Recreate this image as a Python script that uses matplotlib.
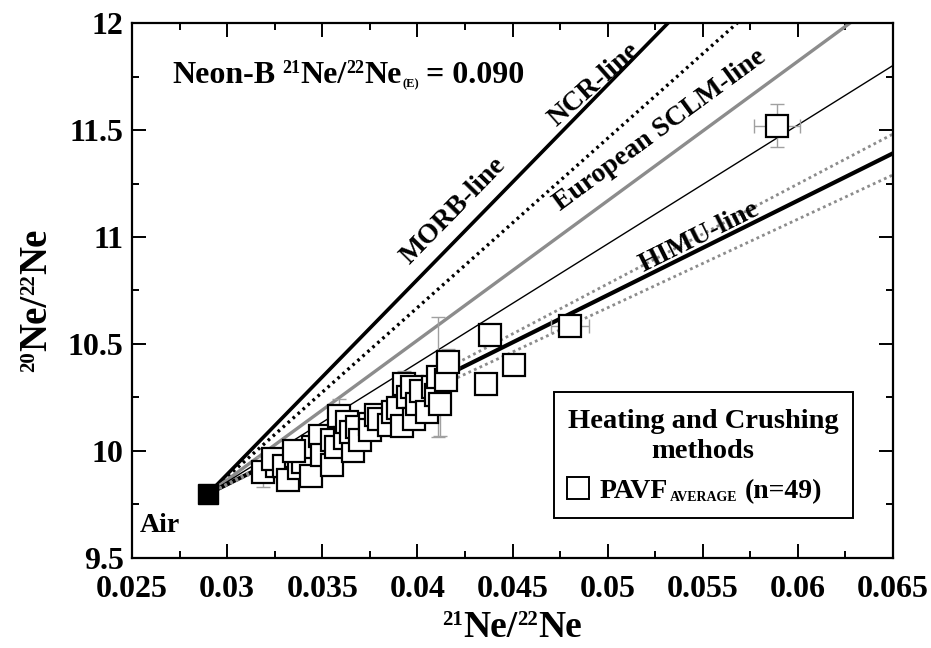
"""Neon three-isotope plot: 20Ne/22Ne vs 21Ne/22Ne with mixing lines from air."""

from __future__ import annotations

import matplotlib

matplotlib.use("Agg")
import matplotlib.pyplot as plt
from matplotlib.patches import Rectangle
import numpy as np

# air composition
AIR_X = 0.029
AIR_Y = 9.8

# reference lines: (name, slope through air)
LINE_NAMES = ["MORB", "NCR", "SCLM", "THIN", "HIMU", "HIMU_HI", "HIMU_LO"]
LINE_SLOPES = [91.0, 79.1, 65.2, 55.6, 44.2, 46.7, 41.4]

# PAVF average samples (heating + crushing)
SAMPLE_X = [
    0.0319, 0.0326, 0.0324, 0.0330, 0.0332, 0.0336, 0.0338, 0.0340,
    0.0344, 0.0345, 0.0349, 0.0350, 0.0355, 0.0355, 0.0357, 0.0359,
    0.0362, 0.0363, 0.0366, 0.0365, 0.0368, 0.0370, 0.0375, 0.0375,
    0.0378, 0.0380, 0.0385, 0.0387, 0.0390, 0.0392, 0.0393, 0.0395,
    0.0397, 0.0398, 0.0400, 0.0402, 0.0405, 0.0408, 0.0410, 0.0412,
    0.0411, 0.0415, 0.0416, 0.0436, 0.0438, 0.0451, 0.0480, 0.0589,
    0.0335,
]
SAMPLE_Y = [
    9.902, 9.930, 9.961, 9.930, 9.864, 9.977, 9.920, 9.950,
    9.885, 10.020, 10.071, 9.980, 9.936, 10.050, 10.020, 10.165,
    10.060, 10.134, 10.001, 10.090, 10.110, 10.050, 10.126, 10.100,
    10.170, 10.150, 10.120, 10.182, 10.200, 10.117, 10.313, 10.250,
    10.300, 10.150, 10.220, 10.280, 10.180, 10.300, 10.260, 10.220,
    10.344, 10.330, 10.417, 10.313, 10.542, 10.400, 10.584, 11.520,
    10.000,
]
SAMPLE_XERR = [
    0.0004, 0.0004, 0.0004, 0.0004, 0.0004, 0.0004, 0.0004, 0.0004,
    0.0004, 0.0004, 0.0004, 0.0004, 0.0004, 0.0004, 0.0004, 0.0004,
    0.0004, 0.0004, 0.0004, 0.0004, 0.0004, 0.0004, 0.0004, 0.0004,
    0.0004, 0.0004, 0.0004, 0.0004, 0.0004, 0.0004, 0.0004, 0.0004,
    0.0004, 0.0004, 0.0004, 0.0004, 0.0004, 0.0004, 0.0004, 0.0005,
    0.0004, 0.0004, 0.0006, 0.0004, 0.0005, 0.0004, 0.0010, 0.0012,
    0.0004,
]
SAMPLE_YERR = [
    0.07, 0.03, 0.03, 0.03, 0.03, 0.03, 0.03, 0.03,
    0.03, 0.03, 0.05, 0.03, 0.03, 0.03, 0.03, 0.08,
    0.03, 0.04, 0.03, 0.03, 0.03, 0.03, 0.04, 0.03,
    0.03, 0.04, 0.03, 0.04, 0.05, 0.03, 0.06, 0.05,
    0.04, 0.03, 0.04, 0.05, 0.03, 0.04, 0.03, 0.15,
    0.28, 0.04, 0.06, 0.03, 0.03, 0.03, 0.03, 0.10,
    0.03,
]

FONT = "Liberation Serif"


def line_style(name: str) -> dict:
    styles = {
        "MORB": dict(color="black", lw=2.6, ls="-"),
        "NCR": dict(color="black", lw=2.4, ls=(0, (0.8, 1.2))),
        "SCLM": dict(color="#8c8c8c", lw=2.4, ls="-"),
        "THIN": dict(color="black", lw=1.0, ls="-"),
        "HIMU": dict(color="black", lw=3.0, ls="-"),
        "HIMU_HI": dict(color="#8c8c8c", lw=2.0, ls=(0, (1, 1.2))),
        "HIMU_LO": dict(color="#8c8c8c", lw=2.0, ls=(0, (1, 1.2))),
    }
    return styles[name]


def chain_text(fig, x_px, y_px, parts, rotation=0, align="left", zorder=7):
    """Write text pieces one after another (for small super/subscripts).

    parts: (string, fontsize, rise_px, gap_px). x_px/y_px are display pixels of
    the baseline start (or baseline centre when align="center").
    """
    renderer = fig.canvas.get_renderer()
    W, H = fig.bbox.width, fig.bbox.height
    ang = np.radians(rotation)
    ux, uy = np.cos(ang), np.sin(ang)
    nx, ny = -uy, ux
    texts, offsets = [], []
    pos = 0.0
    for s, size, rise, gap in parts:
        pos += gap
        t = fig.text(0, 0, s, fontsize=size, fontweight="bold", rotation=rotation,
                     rotation_mode="anchor", ha="left", va="baseline", zorder=zorder)
        bb = t.get_window_extent(renderer)
        texts.append(t)
        offsets.append((pos, rise))
        pos += bb.width if rotation == 0 else bb.height
    shift = -pos / 2 if align == "center" else 0.0
    for t, (p, rise) in zip(texts, offsets):
        px = x_px + ux * (p + shift) + nx * rise
        py = y_px + uy * (p + shift) + ny * rise
        t.set_position((px / W, py / H))
    return texts


def main() -> None:
    plt.rcParams["font.family"] = [FONT, "DejaVu Serif"]
    plt.rcParams["font.weight"] = "bold"

    fig = plt.figure(figsize=(9.31, 6.48), dpi=100)
    ax = fig.add_axes([0.1418, 0.1389, 0.8174, 0.8256])
    ax.set_xlim(0.025, 0.065)
    ax.set_ylim(9.5, 12)
    fig_h = fig.bbox.height

    xs = np.array([AIR_X, 0.08])
    for name, slope in zip(LINE_NAMES, LINE_SLOPES):
        ax.plot(xs, AIR_Y + slope * (xs - AIR_X), zorder=2, **line_style(name))

    ax.errorbar(SAMPLE_X, SAMPLE_Y, xerr=SAMPLE_XERR, yerr=SAMPLE_YERR, fmt="none",
                ecolor="#a0a0a0", elinewidth=1.0, capsize=5, capthick=1.0, zorder=3)
    for x, y in zip(SAMPLE_X, SAMPLE_Y):
        ax.plot(x, y, marker="s", ms=16, mfc="white", mec="black", mew=1.6,
                ls="none", zorder=4)

    ax.plot(AIR_X, AIR_Y, marker="s", ms=15, color="black", zorder=5)
    ax.text(0.02647, 9.654, "Air", fontsize=20, ha="center", va="center")

    ax.set_xticks(np.arange(0.025, 0.0651, 0.005))
    ax.set_xticklabels(["0.025", "0.03", "0.035", "0.04", "0.045", "0.05", "0.055", "0.06", "0.065"])
    ax.set_xticks(np.arange(0.025, 0.0651, 0.0025), minor=True)
    ax.set_yticks(np.arange(9.5, 12.01, 0.5))
    ax.set_yticklabels(["9.5", "10", "10.5", "11", "11.5", "12"])
    ax.set_yticks(np.arange(9.5, 12.01, 0.25), minor=True)
    ax.tick_params(which="both", direction="in", top=True, right=True, width=1.4,
                   labelsize=23)
    ax.tick_params(which="major", length=10)
    ax.tick_params(axis="x", which="major", pad=12)
    ax.tick_params(axis="y", which="major", pad=6)
    ax.tick_params(which="minor", length=5)
    for spine in ax.spines.values():
        spine.set_linewidth(1.6)

    # line labels, rotated along the lines on screen
    fig.canvas.draw()
    labels = [
        ("MORB-line", 0.04187, 11.12, 91.0),
        ("NCR-line", 0.0493, 11.71, 79.1),
        ("European SCLM-line", 0.05275, 11.50, 65.2),
        ("HIMU-line", 0.0548, 11.00, 44.2),
    ]
    for text, x, y, slope in labels:
        p0 = ax.transData.transform((AIR_X, AIR_Y))
        p1 = ax.transData.transform((AIR_X + 0.01, AIR_Y + slope * 0.01))
        angle = np.degrees(np.arctan2(p1[1] - p0[1], p1[0] - p0[0]))
        ax.text(x, y, text, fontsize=20, rotation=angle, rotation_mode="anchor",
                ha="center", va="center")

    # header text with small isotope numbers
    chain_text(fig, 172, fig_h - 83, [
        ("Neon-B", 23, 0, 0), ("21", 13, 10, 7), ("Ne/", 23, 0, 0), ("22", 13, 10, 0),
        ("Ne", 23, 0, 0), ("(E)", 9, -4, 1), ("= 0.090", 23, 0, 7),
    ])

    # axis labels
    chain_text(fig, 512, 11, [
        ("21", 15, 12, 0), ("Ne/", 27, 0, 0), ("22", 15, 12, 0), ("Ne", 27, 0, 0),
    ], align="center")
    chain_text(fig, 46, fig_h - 300, [
        ("20", 15, 12, 0), ("Ne/", 28, 0, 0), ("22", 15, 12, 0), ("Ne", 28, 0, 0),
    ], rotation=90, align="center")

    # legend box drawn by hand
    ax.add_patch(Rectangle((0.5545, 0.0748), 0.3925, 0.2355, transform=ax.transAxes,
                           facecolor="white", edgecolor="black", lw=1.4, zorder=6))
    chain_text(fig, 703, fig_h - 428, [("Heating and Crushing", 20.5, 0, 0)], align="center")
    chain_text(fig, 703, fig_h - 458, [("methods", 20.5, 0, 0)], align="center")
    mx, my = ax.transAxes.inverted().transform((578, fig_h - 488))
    ax.plot(mx, my, marker="s", ms=16, mfc="white", mec="black", mew=1.4,
            transform=ax.transAxes, zorder=7, clip_on=False)
    chain_text(fig, 600, fig_h - 498, [
        ("PAVF", 20, 0, 0), ("AVERAGE", 10, -3, 1), ("(n=49)", 20, 0, 8),
    ])

    fig.savefig("out.png", dpi=100)


if __name__ == "__main__":
    main()
